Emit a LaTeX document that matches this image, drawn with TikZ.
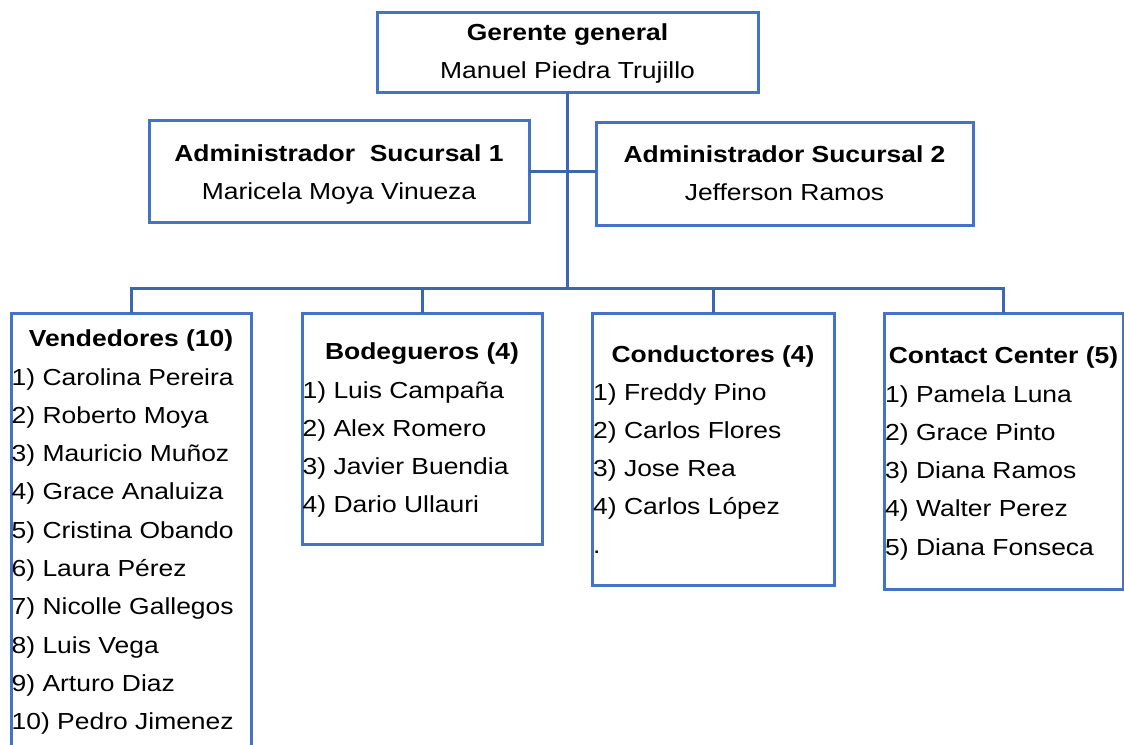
\documentclass[tikz,border=0pt]{standalone}
\usepackage{fontspec}
\setmainfont[FakeStretch=1.14]{Liberation Sans}
\definecolor{boxblue}{HTML}{4472C4}
\definecolor{linkblue}{HTML}{3D66B0}
\begin{document}
\begin{tikzpicture}[x=1pt,y=-1pt,
  box/.style={draw=boxblue, line width=3pt, inner sep=0pt, outer sep=0pt,
              anchor=north west, fill=white},
  link/.style={draw=linkblue, line width=3pt},
  txt/.style={inner sep=0pt, anchor=base, font=\fontsize{23.2}{27}\selectfont},
  head/.style={txt, font=\fontsize{23.2}{27}\selectfont\bfseries},
  item/.style={txt, anchor=base west}]
\useasboundingbox (0,0) rectangle (1124,744);
\clip (0,0) rectangle (1124,744);

% boxes
\node[box, minimum width=381pt, minimum height=80pt]  (gm)  at (377,12)  {};
\node[box, minimum width=380pt, minimum height=102pt] (a1)  at (149,120) {};
\node[box, minimum width=377pt, minimum height=103pt] (a2)  at (596,122) {};
\node[box, minimum width=240pt, minimum height=460pt] (ven) at (11,313)  {};
\node[box, minimum width=240pt, minimum height=231pt] (bod) at (302,313) {};
\node[box, minimum width=242pt, minimum height=272pt] (con) at (592,313) {};
\node[box, minimum width=239pt, minimum height=276pt] (cc)  at (884,313) {};

% connectors
\coordinate (bus) at (gm.south |- 0,288);
\draw[link] (gm.south) -- (bus);
\draw[link] (a1.east) -- (a1.east -| a2.west);
\draw[link] (ven.north) |- (bus) -| (cc.north);
\draw[link] (bod.north) -- (bod.north |- bus);
\draw[link] (con.north) -- (con.north |- bus);

% general manager
\node[head] (gmt) at (567.5,40) {Gerente general};
\node[txt]  (gmn) at (567.5,78) {Manuel Piedra Trujillo};

% branch administrators
\node[head] (a1t) at (339,161) {Administrador\ \ Sucursal 1};
\node[txt]  (a1n) at (339,199) {Maricela Moya Vinueza};
\node[head] (a2t) at (784.5,162) {Administrador Sucursal 2};
\node[txt]  (a2n) at (784.5,200) {Jefferson Ramos};

% sales staff
\node[head] (vent) at (131,346) {Vendedores (10)};
\foreach \t [count=\i] in {1) Carolina Pereira, 2) Roberto Moya, 3) Mauricio Muñoz,
    4) Grace Analuiza, 5) Cristina Obando, 6) Laura Pérez, 7) Nicolle Gallegos,
    8) Luis Vega, 9) Arturo Diaz, 10) Pedro Jimenez}
  \node[item] (ven\i) at (11.5,{385+38.3*(\i-1)}) {\t};

% warehouse staff
\node[head] (bodt) at (422,359) {Bodegueros (4)};
\foreach \t [count=\i] in {1) Luis Campaña, 2) Alex Romero, 3) Javier Buendia, 4) Dario Ullauri}
  \node[item] (bod\i) at (302.5,{398+38.3*(\i-1)}) {\t};

% drivers
\node[head] (cont) at (713,362) {Conductores (4)};
\foreach \t [count=\i] in {1) Freddy Pino, 2) Carlos Flores, 3) Jose Rea, 4) Carlos López, .}
  \node[item] (con\i) at (593,{400+38.3*(\i-1)}) {\t};

% contact center
\node[head] (cct) at (1003.5,363) {Contact Center (5)};
\foreach \t [count=\i] in {1) Pamela Luna, 2) Grace Pinto, 3) Diana Ramos, 4) Walter Perez, 5) Diana Fonseca}
  \node[item] (cc\i) at (885,{402+38.3*(\i-1)}) {\t};
\end{tikzpicture}
\end{document}
